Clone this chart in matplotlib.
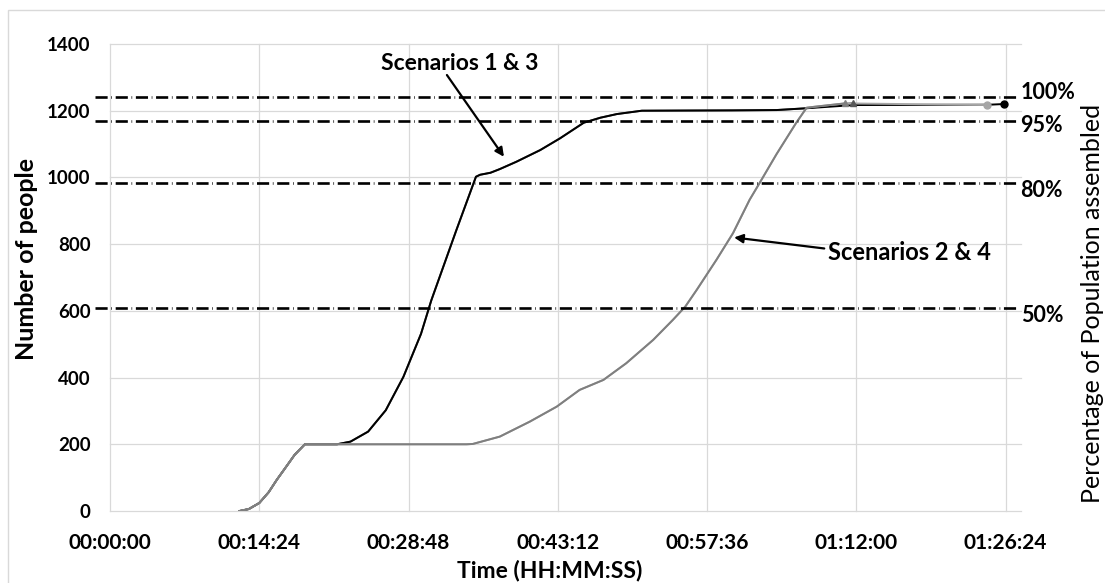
import matplotlib
matplotlib.use("Agg")
import matplotlib.pyplot as plt
import matplotlib.transforms as mtransforms
from matplotlib.patches import Rectangle
from matplotlib.ticker import FuncFormatter

plt.rcParams['font.family'] = ['Lato', 'DejaVu Sans']

# scenarios 1 & 3 (fast), time in minutes
s13_time = [12.5, 13.4, 14.4, 15.3, 16.1, 17.0, 17.8, 18.8, 21.9, 23.2, 24.9, 26.6, 28.3,
            30.0, 31.0, 33.4, 35.3, 35.7, 36.7, 37.6, 39.2, 41.5, 43.4, 45.7, 47.3, 48.9,
            51.3, 60.0, 64.3, 67.0, 71.8, 84.8, 86.2]
s13_people = [0, 6, 24, 56, 94, 133, 168, 200, 200, 208, 238, 302, 402,
              531, 632, 841, 1002, 1008, 1014, 1025, 1047, 1082, 1117, 1164, 1179, 1190,
              1200, 1201, 1202, 1207, 1217, 1218, 1220]

# scenarios 2 & 4 (delayed)
s24_time = [12.5, 13.4, 14.4, 15.3, 16.1, 17.0, 17.8, 18.8, 34.4, 35.0, 37.6, 40.5, 43.1,
            45.3, 47.6, 49.8, 52.4, 54.3, 55.5, 56.6, 58.5, 60.1, 61.7, 62.6, 64.3, 66.2,
            67.2, 68.0, 70.9, 84.6]
s24_people = [0, 6, 24, 56, 94, 133, 168, 200, 200, 201, 223, 268, 313,
              363, 393, 443, 513, 573, 613, 663, 753, 833, 933, 980, 1070, 1164,
              1209, 1212, 1222, 1217]

# last point of each scenario
end_time = {'S1': 86.2, 'S2': 70.9, 'S3': 71.7, 'S4': 84.6}
end_people = {'S1': 1220, 'S2': 1223, 'S3': 1223, 'S4': 1217}

ref_levels = [1240, 1168, 983, 608]
ref_labels = ['100%', '95%', '80%', '50%']
ref_label_y = [1254, 1157, 960, 587]

x_ticks = [0, 14.4, 28.8, 43.2, 57.6, 72.0, 86.4]
y_ticks = [0, 200, 400, 600, 800, 1000, 1200, 1400]


def hms(m, pos=None):
    s = int(round(m * 60))
    return f"{s // 3600:02d}:{(s % 3600) // 60:02d}:{s % 60:02d}"


def upto(times, vals, tmax):
    t = [a for a in times if a <= tmax]
    return t, vals[:len(t)]


fig = plt.figure(figsize=(11.05, 5.83), dpi=100)
ax = fig.add_axes([110 / 1105, 1 - 511 / 583, 910.6 / 1105, 467 / 583])

# chart area border
fig.patches.append(Rectangle((8 / 1105, -0.05), 1.2, 1.05 - 9.5 / 583, transform=fig.transFigure,
                             fill=False, ec='#d9d9d9', lw=1))

# series, grey ones drawn on top
styles = [('S3', s13_time, s13_people, '#595959', '^'),
          ('S1', s13_time, s13_people, 'black', 'o'),
          ('S4', s24_time, s24_people, '#a6a6a6', 'o'),
          ('S2', s24_time, s24_people, '#7f7f7f', '^')]
for key, tt, vv, col, mk in styles:
    t, v = upto(tt, vv, end_time[key])
    t = t + [end_time[key]]
    v = list(v) + [end_people[key]]
    ax.plot(t, v, color=col, lw=1.4, zorder=3, solid_joinstyle='round')
    ax.plot(t[-1], v[-1], marker=mk, color=col, ms=5, zorder=4, clip_on=False)

# percentage reference lines
trans = mtransforms.blended_transform_factory(ax.transAxes, ax.transData)
for lvl, lab, ly in zip(ref_levels, ref_labels, ref_label_y):
    ax.plot([-0.0165, 0.995], [lvl, lvl], transform=trans, color='black', lw=1.9,
            linestyle=(0, (4.6, 1.4, 0.25, 1.4)), clip_on=False, zorder=5)
    ax.text(1.0, ly, lab, transform=trans, ha='left', va='center', fontsize=15.5,
            fontweight='bold')

# annotations
ax.text(26.1, 1342, 'Scenarios 1 & 3', ha='left', va='center', fontsize=16.5, fontweight='bold')
ax.annotate('', xy=(38.0, 1062), xytext=(32.5, 1307),
            arrowprops=dict(arrowstyle='-|>', color='black', lw=1.6, shrinkA=0, shrinkB=0,
                            mutation_scale=13))
ax.text(69.25, 775, 'Scenarios 2 & 4', ha='left', va='center', fontsize=17, fontweight='bold')
ax.annotate('', xy=(60.2, 820), xytext=(68.9, 787),
            arrowprops=dict(arrowstyle='-|>', color='black', lw=1.6, shrinkA=0, shrinkB=0,
                            mutation_scale=13))

ax.set_xlim(0, 87.84)
ax.set_ylim(0, 1400)
ax.set_xticks(x_ticks)
ax.set_yticks(y_ticks)
ax.xaxis.set_major_formatter(FuncFormatter(hms))
ax.tick_params(axis='x', length=0, pad=16, labelsize=15)
ax.tick_params(axis='y', length=0, pad=14, labelsize=13.5)
for lbl in ax.get_xticklabels() + ax.get_yticklabels():
    lbl.set_fontweight('bold')
ax.grid(True, color='#d9d9d9', lw=0.9, clip_on=False)
ax.set_axisbelow(True)
for sp in ax.spines.values():
    sp.set_visible(False)

fig.text(549.5 / 1105, 1 - 570.5 / 583, 'Time (HH:MM:SS)', ha='center', va='center',
         fontsize=16.5, fontweight='bold')
fig.text(27 / 1105, 1 - 259 / 583, 'Number of people', ha='center', va='center',
         rotation=90, fontsize=18, fontweight='bold')
fig.text(1093 / 1105, 1 - 303 / 583, 'Percentage of Population assembled', ha='center',
         va='center', rotation=90, fontsize=18)

fig.savefig('out.png', dpi=100)
